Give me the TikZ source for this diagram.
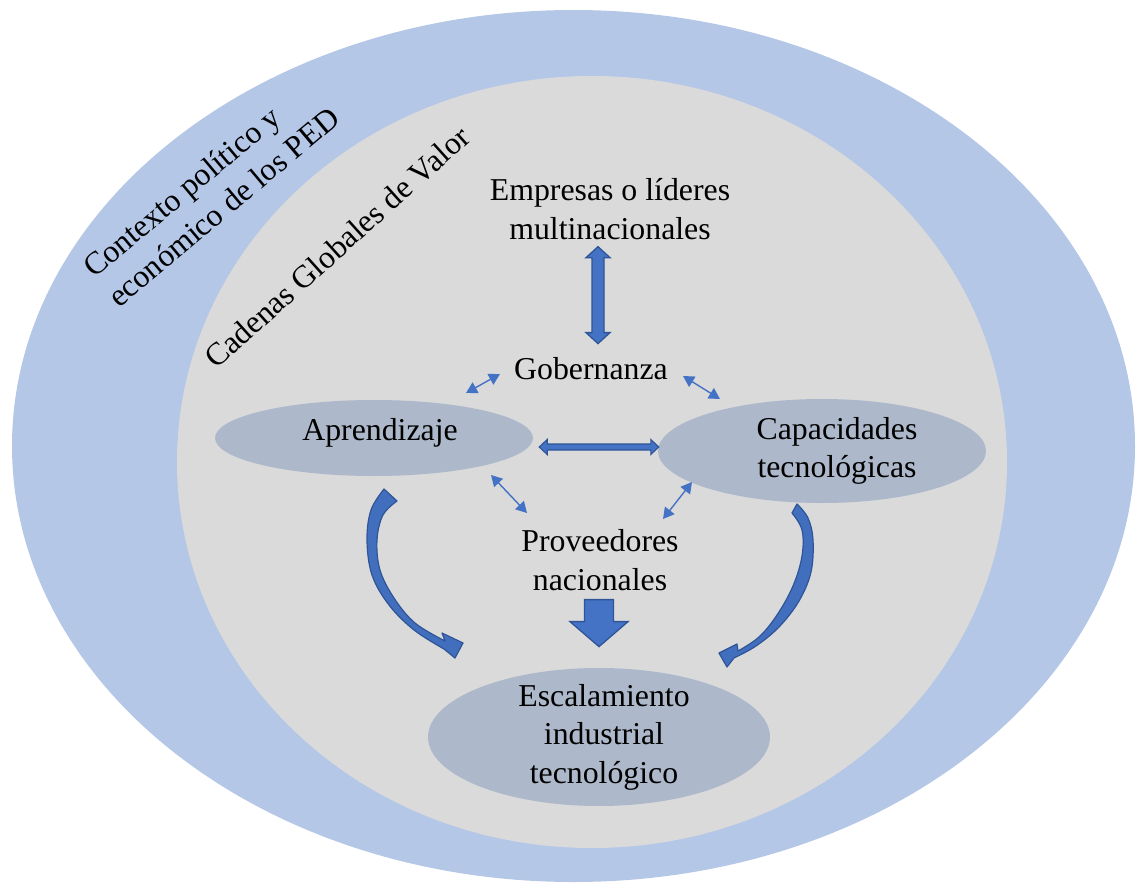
\documentclass[tikz,border=0pt]{standalone}
\usepackage{fontspec}
\setmainfont{Liberation Serif}
\usetikzlibrary{shapes.geometric,arrows.meta,calc}

\definecolor{ringblue}{HTML}{B4C7E7}
\definecolor{chaingray}{HTML}{DADADA}
\definecolor{bubblegray}{HTML}{ADB9CA}
\definecolor{arrowblue}{HTML}{4472C4}
\definecolor{arrowdark}{HTML}{2F5597}

\tikzset{
  lbl/.style={font=\fontsize{31.8}{38.5}\selectfont, align=center, inner sep=0pt, text=black},
  bubble/.style={ellipse, fill=bubblegray, draw=none, inner sep=0pt},
  blockarrow/.style={fill=arrowblue, draw=arrowdark, line width=1.3pt, line join=miter},
  curvearrow/.style={fill=arrowblue!85!arrowdark, draw=arrowdark, line width=1.2pt, line join=round},
  linkarrow/.style={draw=arrowblue, line width=1.4pt,
    {Triangle[length=11pt,width=12pt]}-{Triangle[length=11pt,width=12pt]}},
}

\begin{document}
\begin{tikzpicture}[x=1pt,y=-1pt]
\useasboundingbox (0,0) rectangle (1138,883);

% outer context ring and value-chain area
\fill[ringblue] (573.5,446) ellipse [x radius=561.5, y radius=436];
\fill[chaingray] (592,462) ellipse [x radius=415, y radius=386];

% rotated ring labels
\node[lbl, rotate=40, align=left] (ctx) at (211,192) {Contexto político y\\económico de los PED};
\node[lbl, rotate=42] (cgv) at (337,247) {Cadenas Globales de Valor};

% bubbles
\node[bubble, minimum width=318pt, minimum height=76pt] (aprEll) at (374,438) {};
\node[bubble, minimum width=328pt, minimum height=104pt] (capEll) at (822,451) {};
\node[bubble, minimum width=342pt, minimum height=138pt] (escEll) at (599,737) {};

% labels
\node[lbl] (emp) at (610,209) {Empresas o líderes\\multinacionales};
\node[lbl] (gob) at (591,369) {Gobernanza};
\node[lbl] (apr) at (380,433) {Aprendizaje};
\node[lbl] (cap) at (837,451) {Capacidades\\tecnológicas};
\node[lbl] (prov) at (600,560) {Proveedores\\nacionales};
\node[lbl] (esc) at (604,737) {Escalamiento\\industrial\\tecnológico};

% vertical double block arrow: empresas <-> gobernanza
\coordinate (vTop) at ($(emp.south)+(-12,7)$);
\coordinate (vBot) at ($(gob.north)+(7,-14)$);
\path[blockarrow] (vTop) -- ++(12,11) -- ++(-6,0)
  -- ($(vBot)+(6,-11)$) -- ++(6,0) -- (vBot) -- ++(-12,-11) -- ++(6,0)
  -- ($(vTop)+(-6,11)$) -- ++(-6,0) -- cycle;

% horizontal double block arrow: aprendizaje <-> capacidades
\coordinate (hL) at ($(aprEll.east)+(6,9)$);
\coordinate (hR) at ($(capEll.west)+(1,-4)$);
\path[blockarrow, line width=1.1pt] (hL) -- ++(8,-7.5) -- ++(0,4.5)
  -- ($(hR)+(-8,-3)$) -- ++(0,-4.5) -- (hR) -- ++(-8,7.5) -- ++(0,-4.5)
  -- ($(hL)+(8,3)$) -- ++(0,4.5) -- cycle;

% down block arrow: proveedores -> escalamiento
\coordinate (dTop) at ($(prov.south)+(-1,9)$);
\path[blockarrow] (dTop) ++(-14.5,0) -- ++(29,0) -- ++(0,22) -- ++(14.5,0)
  -- ($(dTop)+(0,47)$) -- ++(-29,-25) -- ++(14.5,0) -- cycle;

% small double arrows around the centre
\coordinate (ga1) at (466,393); \coordinate (ga2) at (500,374);
\coordinate (gb1) at (683,376); \coordinate (gb2) at (720,399);
\coordinate (pa1) at (491,475); \coordinate (pa2) at (527,513);
\coordinate (pb1) at (692,482); \coordinate (pb2) at (663,519);
\draw[linkarrow] (ga1) -- (ga2);
\draw[linkarrow] (gb1) -- (gb2);
\draw[linkarrow] (pa1) -- (pa2);
\draw[linkarrow] (pb1) -- (pb2);

% curved arrow: aprendizaje -> escalamiento
\path[curvearrow]
  plot[smooth, tension=0.6] coordinates {(384,489) (371,510) (367,540) (372,575) (389,605) (414,630) (444,649)}
  -- (455,658) -- (463,643) -- (442,633)
  -- plot[smooth, tension=0.6] coordinates {(445,641) (415,623) (394,598) (380,570) (377,540) (383,515) (397,501)}
  -- cycle;

% curved arrow: capacidades -> escalamiento
\path[curvearrow]
  plot[smooth, tension=0.6] coordinates {(797,504) (808,518) (813,540) (811,572) (799,601) (779,627) (756,646) (734,658)}
  -- (727,667) -- (719,653) -- (737,644)
  -- plot[smooth, tension=0.6] coordinates {(738,651) (759,637) (777,615) (793,586) (802,556) (802,530) (792,513)}
  -- cycle;
\end{tikzpicture}
\end{document}
